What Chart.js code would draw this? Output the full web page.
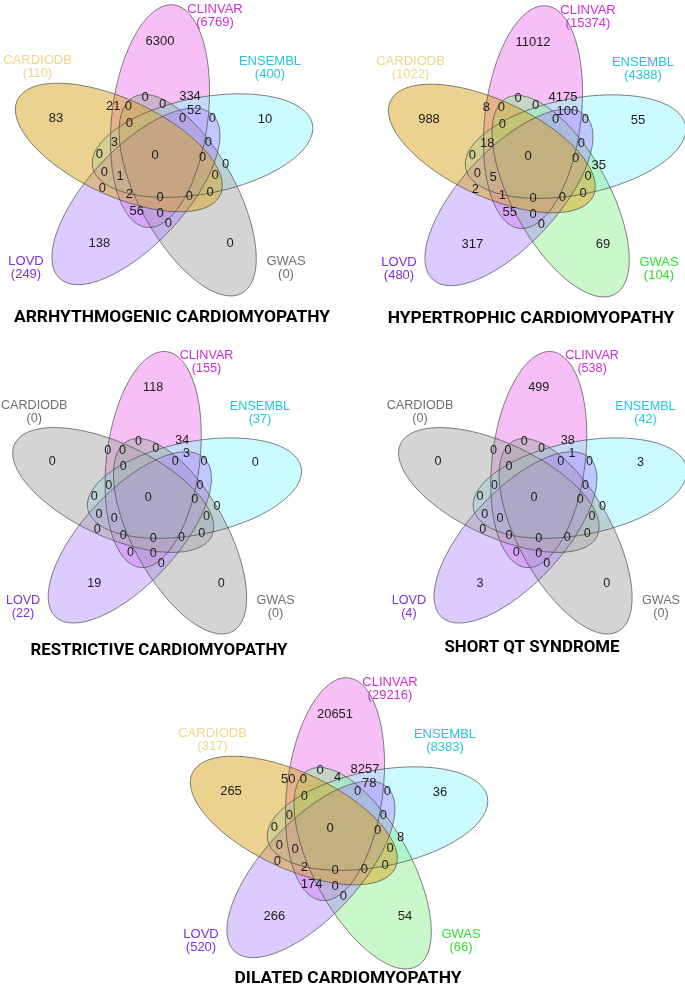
<!DOCTYPE html>
<html>
<head>
<meta charset="utf-8">
<script src="https://cdn.jsdelivr.net/npm/chart.js@4.4.0/dist/chart.umd.min.js"></script>
<style>
  body { margin: 0; background: #fff; }
  #page { position: relative; width: 685px; height: 985px; overflow: hidden; }
  #page canvas { position: absolute; }
</style>
</head>
<body>
<div id="page"></div>
<script>
// set order: clockwise from the top petal
const sets = ['CLINVAR', 'ENSEMBL', 'GWAS', 'LOVD', 'CARDIODB'];

const arrhythmogenicTotals = [6769, 400, 0, 249, 110];
const hypertrophicTotals = [15374, 4388, 104, 480, 1022];
const restrictiveTotals = [155, 37, 0, 22, 0];
const shortQtTotals = [538, 42, 0, 4, 0];
const dilatedTotals = [29216, 8383, 66, 520, 317];

// 31 region counts, same region order in every diagram
const arrhythmogenicCounts = [6300, 10, 0, 138, 83, 334, 52, 21, 0, 0, 0, 0, 0, 0, 3, 0, 0, 0, 0, 0, 0, 1, 0, 0, 2, 0, 0, 0, 56, 0, 0];
const hypertrophicCounts = [11012, 55, 69, 317, 988, 4175, 100, 8, 0, 0, 0, 0, 0, 0, 18, 0, 0, 0, 0, 35, 0, 5, 0, 2, 1, 0, 0, 0, 55, 0, 0];
const restrictiveCounts = [118, 0, 0, 19, 0, 34, 3, 0, 0, 0, 0, 0, 0, 0, 0, 0, 0, 0, 0, 0, 0, 0, 0, 0, 0, 0, 0, 0, 0, 0, 0];
const shortQtCounts = [499, 3, 0, 3, 0, 38, 1, 0, 0, 0, 0, 0, 0, 0, 0, 0, 0, 0, 0, 0, 0, 0, 0, 0, 0, 0, 0, 0, 0, 0, 0];
const dilatedCounts = [20651, 36, 54, 266, 265, 8257, 78, 50, 0, 0, 4, 0, 0, 0, 0, 0, 0, 0, 0, 8, 0, 0, 0, 0, 2, 0, 0, 0, 174, 0, 0];

// where each region's number sits (units around the middle of the flower)
const regionX = [5, 110, 75, -55.7, -99, 35, 39.3, -41.7, -26.7, -10, 7.7, -25.7, 27.7, 57.3, -40.7, 53.3, -55.7, 0, 47.7, 70.7, -50.7, -35, 60, -52.7, -25.7, 5, 34.3, 55, -18.3, 5, 13.3];
const regionY = [-113.3, -35.7, 88.3, 88.3, -36.7, -58.3, -45, -48.3, -48.3, -57.7, -50.7, -31.7, -36.7, -36.7, -12.7, -12.7, -1, 0, 2.3, 9, 17.3, 21.7, 20, 33.3, 39, 42.3, 41, 37.7, 56.7, 58.3, 67.7];

// set name label anchors
const catX = [60, 115, 131, -129, -117.5];
const catY = [-146, -94, 106, 106, -95];

// ellipse geometry of the top petal, others are rotated by 72 deg
const flowerCentre = { x: 6, y: 5 };
const petalOffset = { x: -1, y: -44 };
const petalA = 112;
const petalB = 48;
const petalTilt = 7;

const fills = {
    CLINVAR: 'rgba(238,130,238,0.5)',
    ENSEMBL: 'rgba(152,245,255,0.5)',
    GWAS: 'rgba(140,240,140,0.45)',
    LOVD: 'rgba(171,130,255,0.42)',
    CARDIODB: 'rgba(218,165,32,0.5)',
    none: 'rgba(169,169,169,0.5)'
};
const textColors = {
    CLINVAR: '#d22cd2',
    ENSEMBL: '#22c8dc',
    GWAS: '#30e030',
    LOVD: '#7a30e4',
    CARDIODB: '#f0d68c',
    none: '#707070'
};

const panels = [
    { title: 'ARRHYTHMOGENIC CARDIOMYOPATHY', totals: arrhythmogenicTotals, counts: arrhythmogenicCounts, cx: 155, cy: 155, k: 1, dx: 17, ty: 162 },
    { title: 'HYPERTROPHIC CARDIOMYOPATHY', totals: hypertrophicTotals, counts: hypertrophicCounts, cx: 528.3, cy: 156, k: 1, dx: 3, ty: 162 },
    { title: 'RESTRICTIVE CARDIOMYOPATHY', totals: restrictiveTotals, counts: restrictiveCounts, cx: 148.3, cy: 496.7, k: 0.97, dx: 11, ty: 153 },
    { title: 'SHORT QT SYNDROME', totals: shortQtTotals, counts: shortQtCounts, cx: 534.3, cy: 496.7, k: 0.97, dx: -2, ty: 150 },
    { title: 'DILATED CARDIOMYOPATHY', totals: dilatedTotals, counts: dilatedCounts, cx: 330, cy: 827.7, k: 1, dx: 18, ty: 150 }
];

function rotate(p, deg) {
    const r = deg * Math.PI / 180;
    return { x: p.x * Math.cos(r) - p.y * Math.sin(r), y: p.x * Math.sin(r) + p.y * Math.cos(r) };
}

const vennPlugin = {
    id: 'venn',
    beforeDatasetsDraw(chart) {
        const ctx = chart.ctx;
        const xs = chart.scales.x, ys = chart.scales.y;
        const sx = xs.getPixelForValue(1) - xs.getPixelForValue(0);
        const sy = ys.getPixelForValue(1) - ys.getPixelForValue(0);
        const totals = chart.options.plugins.venn.totals;
        const paths = sets.map((name, i) => {
            const off = rotate(petalOffset, 72 * i);
            const c = { x: flowerCentre.x + off.x, y: flowerCentre.y + off.y };
            const m = new DOMMatrix()
                .translate(xs.getPixelForValue(c.x), ys.getPixelForValue(c.y))
                .scale(sx, sy)
                .rotate(petalTilt + 72 * i);
            const raw = new Path2D();
            raw.ellipse(0, 0, petalB, petalA, 0, 0, Math.PI * 2);
            const path = new Path2D();
            path.addPath(raw, m);
            return path;
        });
        ctx.save();
        paths.forEach((p, i) => {
            ctx.fillStyle = totals[i] === 0 ? fills.none : fills[sets[i]];
            ctx.fill(p);
        });
        ctx.strokeStyle = 'rgba(70,70,70,0.75)';
        ctx.lineWidth = 0.9;
        paths.forEach(p => ctx.stroke(p));
        ctx.restore();
    },
    afterDatasetsDraw(chart) {
        const ctx = chart.ctx;
        const xs = chart.scales.x, ys = chart.scales.y;
        const k = chart.options.plugins.venn.k;
        const totals = chart.options.plugins.venn.totals;
        const meta = chart.getDatasetMeta(0);
        ctx.save();
        ctx.textAlign = 'center';
        ctx.textBaseline = 'middle';
        ctx.font = (13 * k) + 'px "Liberation Sans", Arial, sans-serif';
        ctx.fillStyle = '#1c1c1c';
        meta.data.forEach((pt, i) => {
            ctx.fillText(String(chart.data.datasets[0].data[i].v), pt.x, pt.y);
        });
        sets.forEach((name, i) => {
            ctx.fillStyle = totals[i] === 0 ? textColors.none : textColors[name];
            const x = xs.getPixelForValue(catX[i]);
            const y = ys.getPixelForValue(catY[i]);
            ctx.fillText(name, x, y);
            ctx.fillText('(' + totals[i] + ')', x, y + 13.5 * k);
        });
        ctx.restore();
    }
};

const page = document.getElementById('page');

panels.forEach(p => {
    const half = 162 + Math.abs(p.dx);
    const xMin = p.dx - half, xMax = p.dx + half;
    const yMin = -160, yMax = 140;
    const titleSize = 17.4 * p.k;
    const padTop = p.ty - yMax * p.k - titleSize / 2;
    const padBottom = 4;
    const canvas = document.createElement('canvas');
    canvas.width = Math.round((xMax - xMin) * p.k);
    canvas.height = Math.round((yMax - yMin) * p.k + padTop + titleSize + padBottom);
    canvas.style.left = (p.cx + xMin * p.k) + 'px';
    canvas.style.top = (p.cy + yMin * p.k) + 'px';
    page.appendChild(canvas);

    const points = p.counts.map((v, i) => ({ x: regionX[i], y: regionY[i], v: v }));

    new Chart(canvas.getContext('2d'), {
        type: 'scatter',
        data: {
            datasets: [{ data: points, pointRadius: 0, pointHoverRadius: 0 }]
        },
        options: {
            responsive: false,
            animation: false,
            events: [],
            layout: { padding: 0 },
            scales: {
                x: { type: 'linear', min: xMin, max: xMax, display: false },
                y: { type: 'linear', min: yMin, max: yMax, reverse: true, display: false }
            },
            plugins: {
                legend: { display: false },
                tooltip: { enabled: false },
                title: {
                    display: true,
                    position: 'bottom',
                    text: p.title,
                    color: '#000',
                    font: { family: 'Roboto', size: titleSize, weight: 'bold', lineHeight: 1 },
                    padding: { top: padTop, bottom: padBottom }
                },
                venn: { totals: p.totals, k: p.k }
            }
        },
        plugins: [vennPlugin]
    });
});
</script>
</body>
</html>
